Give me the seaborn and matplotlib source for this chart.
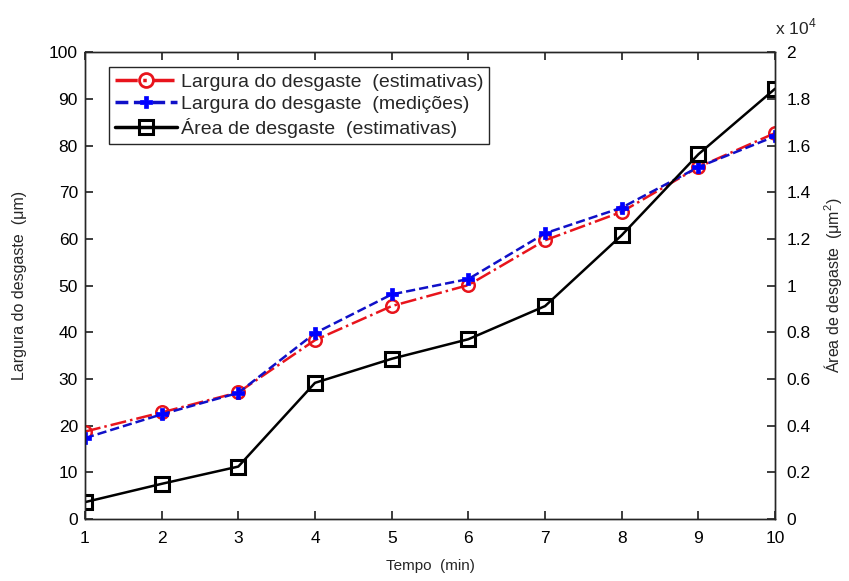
import matplotlib
matplotlib.use("Agg")
import matplotlib.pyplot as plt
import seaborn as sns
import pandas as pd
from matplotlib.ticker import FuncFormatter
from matplotlib.lines import Line2D

tempo = [1, 2, 3, 4, 5, 6, 7, 8, 9, 10]
largura_estimativas = [18.7, 22.8, 27.1, 38.3, 45.6, 50.1, 59.7, 65.8, 75.4, 82.7]
largura_medicoes = [17.3, 22.4, 27.0, 39.8, 48.1, 51.4, 61.2, 66.7, 75.4, 82.0]
area_estimativas = [715, 1500, 2240, 5830, 6860, 7700, 9120, 12160, 15630, 18440]

df = pd.DataFrame({"tempo": tempo, "est": largura_estimativas,
                   "med": largura_medicoes, "area": area_estimativas})

sns.set_theme(style="ticks")
plt.rcParams['font.family'] = ['Liberation Sans', 'DejaVu Sans']
plt.rcParams['mathtext.fontset'] = 'custom'
plt.rcParams['mathtext.rm'] = 'Liberation Sans'

fig = plt.figure(figsize=(8.49, 5.81), dpi=100)
ax = fig.add_axes([0.100, 0.107, 0.813, 0.803])
ax2 = ax.twinx()

sns.lineplot(data=df, x="tempo", y="est", ax=ax, color="#e8141c", linestyle="-.",
             linewidth=1.8, marker="o", markersize=9, markerfacecolor="none",
             markeredgecolor="#e8141c", markeredgewidth=1.8)
sns.lineplot(data=df, x="tempo", y="med", ax=ax, color="#1010c8", linestyle="--",
             linewidth=1.8, marker="P", markersize=9, markerfacecolor="#0000ff",
             markeredgecolor="#0000ff", markeredgewidth=0.5)
sns.lineplot(data=df, x="tempo", y="area", ax=ax2, color="black", linestyle="-",
             linewidth=1.8, marker="s", markersize=9.5, markerfacecolor="none",
             markeredgecolor="black", markeredgewidth=2.2)

ax.set_xlim(1, 10)
ax.set_ylim(0, 100)
ax2.set_ylim(0, 20000)
ax.set_xticks(tempo)
ax.set_yticks(range(0, 101, 10))
ax2.set_yticks(range(0, 20001, 2000))
ax2.yaxis.set_major_formatter(FuncFormatter(lambda v, p: "0" if v == 0 else ("%g" % (v / 1e4))))

for a in (ax, ax2):
    for s in a.spines.values():
        s.set_color("#262626")
        s.set_linewidth(1.0)
ax.tick_params(axis="both", direction="in", length=6, labelsize=12.5, colors="#262626",
               top=True, labelcolor="black")
ax.tick_params(axis="y", right=False, pad=5)
ax.tick_params(axis="x", pad=9)
ax2.tick_params(axis="y", direction="in", length=6, labelsize=12.5, colors="#262626",
                labelcolor="black", pad=8)

ax.set_xlabel("Tempo  (min)", fontsize=11, labelpad=9)
ax.set_ylabel("Largura do desgaste  (μm)", fontsize=11.5, labelpad=16)
ax2.set_ylabel("Área de desgaste  (μm$^2$)", fontsize=11.5, labelpad=8)
fig.text(0.913, 0.935, "x 10$^4$", fontsize=12.5, ha="left", va="bottom")

handles = [
    Line2D([], [], color="#e8141c", linestyle="-.", linewidth=2.5, marker="o", markersize=10,
           markerfacecolor="none", markeredgecolor="#e8141c", markeredgewidth=2),
    Line2D([], [], color="#1010c8", linestyle="--", linewidth=2.5, marker="P", markersize=9,
           markerfacecolor="#0000ff", markeredgecolor="#0000ff", markeredgewidth=0.5),
    Line2D([], [], color="black", linestyle="-", linewidth=2.5, marker="s", markersize=9.5,
           markerfacecolor="none", markeredgecolor="black", markeredgewidth=2.2),
]
labels = ["Largura do desgaste  (estimativas)", "Largura do desgaste  (medições)",
          "Área de desgaste  (estimativas)"]
leg = ax2.legend(handles, labels, loc="upper left", bbox_to_anchor=(0.035, 0.968),
                 fontsize=14, frameon=True, fancybox=False, framealpha=1,
                 edgecolor="#262626", handlelength=3.2, handletextpad=0.2,
                 borderpad=0.3, labelspacing=0.25, borderaxespad=0)
leg.get_frame().set_linewidth(1.0)

fig.savefig("out.png", dpi=100)
